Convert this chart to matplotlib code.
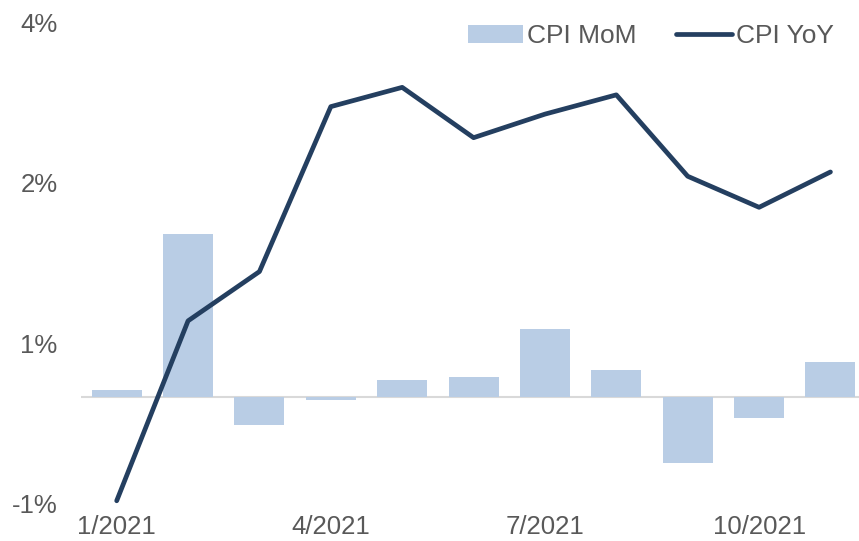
import matplotlib.pyplot as plt
import numpy as np

plt.rcParams['font.family'] = ['Liberation Sans', 'DejaVu Sans']

months = ['1/2021', '2/2021', '3/2021', '4/2021', '5/2021', '6/2021',
          '7/2021', '8/2021', '9/2021', '10/2021', '11/2021']
cpi_mom = [0.06, 1.52, -0.26, -0.03, 0.16, 0.19, 0.63, 0.25, -0.62, -0.20, 0.33]
cpi_yoy = [-0.97, 0.71, 1.17, 2.71, 2.89, 2.42, 2.64, 2.82, 2.06, 1.77, 2.10]

ytick_vals = [-1, 0.5, 2, 3.5]
ytick_labels = ['-1%', '1%', '2%', '4%']

grey = '#595959'
x = np.arange(len(months))

fig = plt.figure(figsize=(8.59, 5.41), dpi=100)
ax = fig.add_axes([0.0943, 0.0684, 0.914, 0.8909])

bars = ax.bar(x, cpi_mom, width=0.7, color='#B9CDE5', label='CPI MoM', zorder=2)
ax.axhline(0, color='#D9D9D9', lw=1.5, zorder=1)
line, = ax.plot(x, cpi_yoy, color='#243F60', lw=3.4, solid_capstyle='round',
                label='CPI YoY', zorder=3)

ax.set_xlim(-0.5, len(months) - 0.5)
ax.set_ylim(-1, 3.5)
ax.set_yticks(ytick_vals)
ax.set_yticklabels(ytick_labels)
ax.set_xticks(x[::3])
ax.set_xticklabels(months[::3])

for s in ax.spines.values():
    s.set_visible(False)
ax.tick_params(length=0, labelsize=18.5, colors=grey)
ax.tick_params(axis='y', pad=17)
ax.tick_params(axis='x', pad=8)

leg = ax.legend([bars, line], ['CPI MoM', 'CPI YoY'], loc='upper right',
                bbox_to_anchor=(0.989, 1.045), ncol=2,
                frameon=False, fontsize=19, handlelength=2.1,
                handletextpad=0.15, columnspacing=1.5)
for t in leg.get_texts():
    t.set_color(grey)

fig.savefig('out.png', dpi=100)
